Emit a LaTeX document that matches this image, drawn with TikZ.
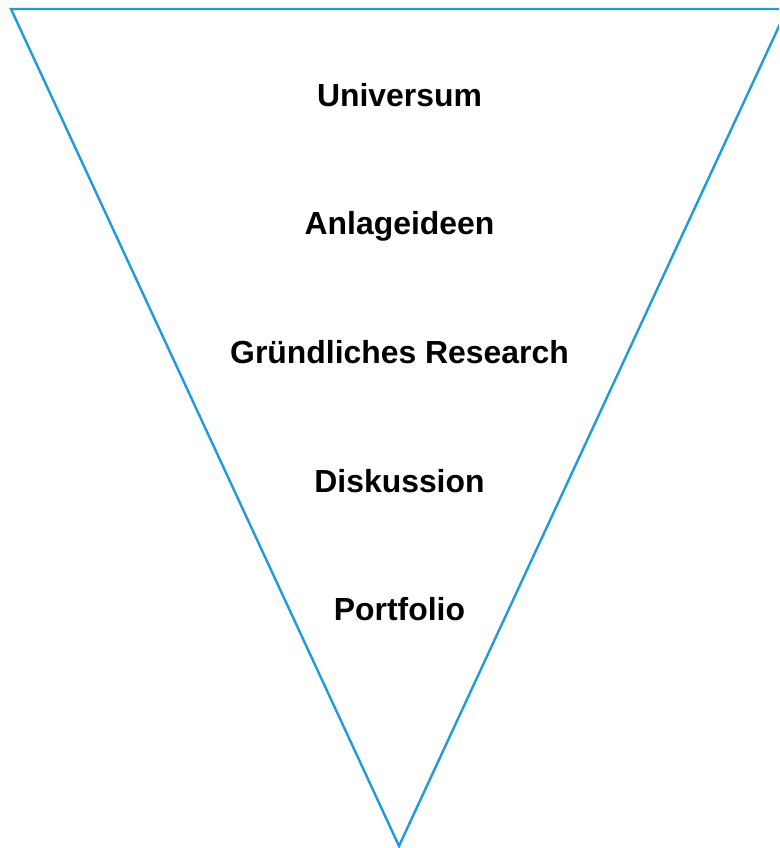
\documentclass[tikz,border=0pt]{standalone}
\usepackage{fontspec}
\setmainfont{Liberation Sans}
\usetikzlibrary{positioning}
\definecolor{funnelblue}{RGB}{30,155,220}

\begin{document}
\begin{tikzpicture}[x=1pt, y=-1pt, every node/.style={font=\fontsize{31.9}{38}\selectfont\bfseries}]
    \tikzset{
    stage/.style={draw=none, align=center, inner sep=0pt, text height=23pt, text depth=8pt},
    funnel/.style={draw=funnelblue, line width=2.4pt, line join=miter}
}
\useasboundingbox (0,0) rectangle (779,848);
\begin{scope}
\clip (0,0) rectangle (779,848);
\coordinate (topleft) at (11,9);
\coordinate (topright) at (787,9);
\coordinate (tip) at (399,846);
\path [funnel] (topleft) -- (topright) -- (tip) -- cycle;
\end{scope}

\node [stage] (universum) at (399.5,98.7) {Universum};
\node [stage, below of=universum, node distance=128.6pt] (anlage) {Anlageideen};
\node [stage, below of=anlage, node distance=128.6pt] (research) {Gründliches Research};
\node [stage, below of=research, node distance=128.6pt] (diskussion) {Diskussion};
\node [stage, below of=diskussion, node distance=128.6pt] (portfolio) {Portfolio};

\end{tikzpicture}
\end{document}
